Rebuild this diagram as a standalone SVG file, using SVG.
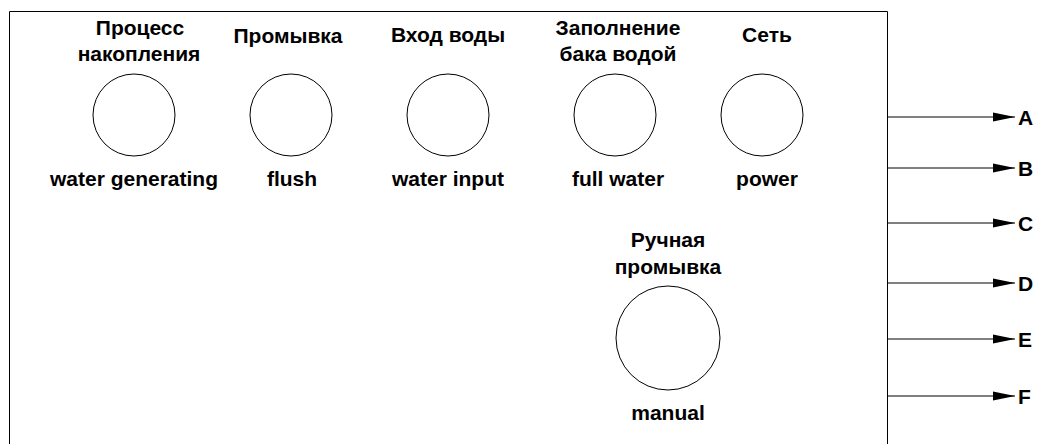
<svg xmlns="http://www.w3.org/2000/svg" width="1039" height="444" viewBox="0 0 1039 444">
<defs>
<style>
.t{font-family:"Liberation Sans",Arial,sans-serif;font-weight:bold;font-size:21px;fill:#000;text-anchor:middle}
.l{font-family:"Liberation Sans",Arial,sans-serif;font-weight:bold;font-size:21px;fill:#000}
.c{fill:#fff;stroke:#000;stroke-width:1}
.w{stroke:#000;stroke-width:1;fill:none}
</style>
<marker id="ah" markerWidth="22" markerHeight="10" refX="22" refY="5" orient="auto" markerUnits="userSpaceOnUse">
<path d="M0,0.5 L22,5 L0,9.5 Z" fill="#000"/>
</marker>
</defs>
<rect width="1039" height="444" fill="#fff"/>
<g id="panel">
<path class="w" d="M9.5,450 V11.5 H887.5 V450" stroke="#333"/>
</g>
<g id="n1">
<text class="t" x="140" y="35">Процесс</text>
<text class="t" x="139" y="61">накопления</text>
<circle class="c" cx="134" cy="115" r="41"/>
<text class="t" x="134" y="186">water generating</text>
</g>
<g id="n2">
<text class="t" x="288" y="43">Промывка</text>
<circle class="c" cx="291" cy="115" r="41"/>
<text class="t" x="292" y="186">flush</text>
</g>
<g id="n3">
<text class="t" x="448" y="42">Вход воды</text>
<circle class="c" cx="448" cy="115" r="41"/>
<text class="t" x="448" y="186">water input</text>
</g>
<g id="n4">
<text class="t" x="618" y="35">Заполнение</text>
<text class="t" x="618" y="61">бака водой</text>
<circle class="c" cx="615" cy="115" r="41"/>
<text class="t" x="618" y="186">full water</text>
</g>
<g id="n5">
<text class="t" x="767" y="42">Сеть</text>
<circle class="c" cx="762" cy="115" r="41"/>
<text class="t" x="767" y="186">power</text>
</g>
<g id="n6">
<text class="t" x="668" y="247">Ручная</text>
<text class="t" x="668" y="274">промывка</text>
<circle class="c" cx="668" cy="338" r="52"/>
<text class="t" x="668" y="420">manual</text>
</g>
<g id="connectors">
<line class="w" x1="888" y1="117" x2="1015" y2="117" marker-end="url(#ah)"/>
<line class="w" x1="888" y1="168" x2="1015" y2="168" marker-end="url(#ah)"/>
<line class="w" x1="888" y1="223" x2="1015" y2="223" marker-end="url(#ah)"/>
<line class="w" x1="888" y1="283" x2="1015" y2="283" marker-end="url(#ah)"/>
<line class="w" x1="888" y1="339" x2="1015" y2="339" marker-end="url(#ah)"/>
<line class="w" x1="888" y1="396" x2="1015" y2="396" marker-end="url(#ah)"/>
</g>
<g id="labels">
<text class="l" x="1018" y="125">A</text>
<text class="l" x="1018" y="176">B</text>
<text class="l" x="1018" y="231">C</text>
<text class="l" x="1018" y="291">D</text>
<text class="l" x="1018" y="347">E</text>
<text class="l" x="1018" y="404">F</text>
</g>
</svg>
